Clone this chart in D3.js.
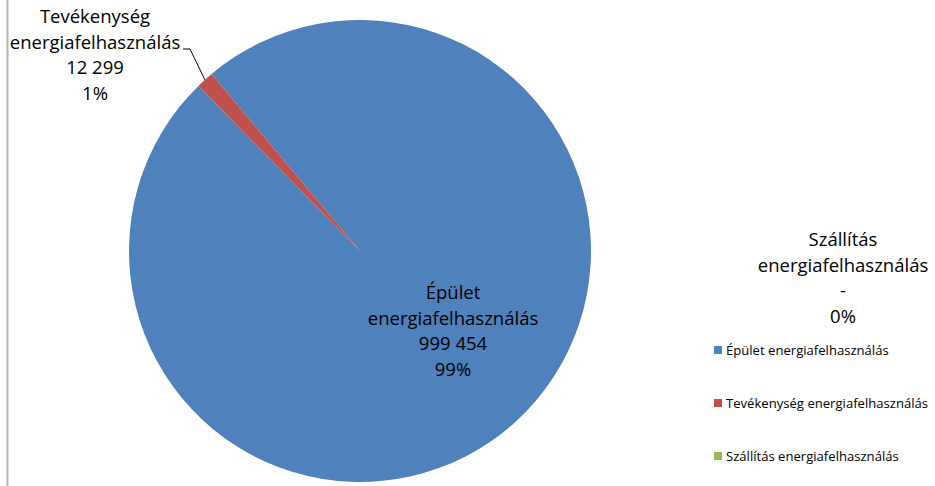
<!DOCTYPE html>
<html>
<head>
<meta charset="utf-8">
<script src="https://cdn.jsdelivr.net/npm/d3@7"></script>
<style>
  body { margin: 0; background: #fff; }
  text { font-family: "Open Sans", "Liberation Sans", Arial, sans-serif; fill: #000; }
</style>
</head>
<body>
<div id="chart"></div>
<script>
// data
var categories = ["Épület energiafelhasználás", "Tevékenység energiafelhasználás", "Szállítás energiafelhasználás"];
var labelNames = [["Épület", "energiafelhasználás"], ["Tevékenység", "energiafelhasználás"], ["Szállítás", "energiafelhasználás"]];
var values = [999454, 12299, 0];
var valueLabels = ["999 454", "12 299", "-"];
var pctLabels = ["99%", "1%", "0%"];
var colors = ["#4F81BD", "#C0504D", "#9BBB59"];

var svgWidth = 935;
var svgHeight = 486;

var svg = d3.select("#chart")
  .append("svg")
  .attr("width", svgWidth)
  .attr("height", svgHeight);

// left border of the chart area
svg.append("line")
  .attr("x1", 7.5).attr("x2", 7.5)
  .attr("y1", 0).attr("y2", svgHeight)
  .attr("stroke", "#b3b3b3")
  .attr("stroke-width", 2);

var cx = 360, cy = 251, radius = 231;
var startAngle = 320 * Math.PI / 180;

var pie = d3.pie()
  .sort(null)
  .startAngle(startAngle)
  .endAngle(startAngle + 2 * Math.PI)
  .value(d => d);

var arc = d3.arc().innerRadius(0).outerRadius(radius);

var pieG = svg.append("g")
  .attr("transform", `translate(${cx}, ${cy})`);

var arcs = pie(values);

pieG.selectAll("path")
  .data(arcs)
  .enter()
  .append("path")
  .attr("d", arc)
  .attr("fill", (d, i) => colors[i]);

// data labels
var labelPos = [[453, 293], [95, 17], [843, 240]];
var lineH = 25.5;

labelPos.forEach(function(p, i) {
  var lines = labelNames[i].concat([valueLabels[i], pctLabels[i]]);
  var t = svg.append("text")
    .attr("text-anchor", "middle")
    .attr("font-size", "18.5px");
  lines.forEach(function(s, j) {
    t.append("tspan")
      .attr("x", p[0])
      .attr("y", p[1] + j * lineH)
      .attr("dy", "0.35em")
      .text(s);
  });
});

// leader line for the small slice
var mid = (arcs[1].startAngle + arcs[1].endAngle) / 2;
var edge = [cx + radius * Math.sin(mid), cy - radius * Math.cos(mid)];
svg.append("polyline")
  .attr("points", `183,49 190,49 ${edge[0]},${edge[1]}`)
  .attr("fill", "none")
  .attr("stroke", "#000")
  .attr("stroke-width", 1);

// legend
var legend = svg.append("g");
var legY = d3.scalePoint().domain(categories).range([350, 456]);

legend.selectAll("rect")
  .data(categories)
  .enter()
  .append("rect")
  .attr("x", 714)
  .attr("y", d => legY(d) - 4)
  .attr("width", 8)
  .attr("height", 8)
  .attr("fill", (d, i) => colors[i]);

legend.selectAll("text")
  .data(categories)
  .enter()
  .append("text")
  .attr("x", 726)
  .attr("y", d => legY(d))
  .attr("dy", "0.35em")
  .attr("font-size", "13.1px")
  .text(d => d);
</script>
</body>
</html>
